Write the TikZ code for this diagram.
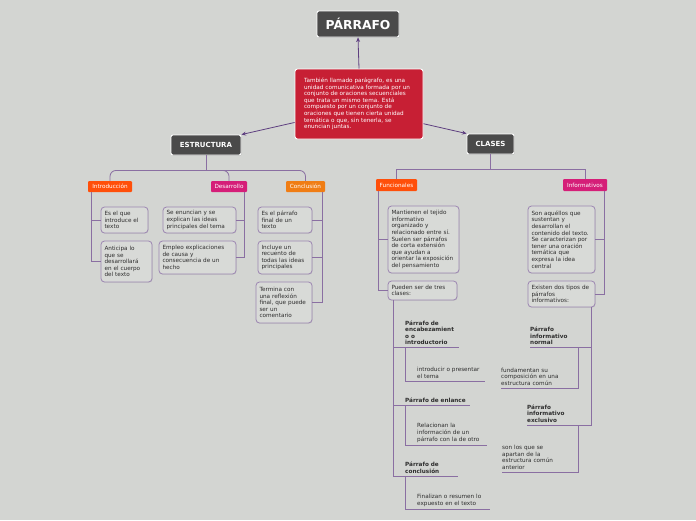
\documentclass[tikz,border=0pt]{standalone}
\usepackage{fontspec}
\setmainfont{DejaVu Sans}
\usetikzlibrary{positioning,arrows.meta,shadows}
\definecolor{bgc}{HTML}{D3D5D2}
\definecolor{darkbox}{HTML}{4A4A4A}
\definecolor{defred}{HTML}{C71F34}
\definecolor{orangered}{HTML}{FF4F0A}
\definecolor{magenta}{HTML}{D51E78}
\definecolor{orange}{HTML}{F07D14}
\definecolor{linkc}{HTML}{8A6FA2}
\definecolor{leafc}{HTML}{9C86B2}
\definecolor{arrc}{HTML}{5E3F80}
\definecolor{txt}{HTML}{2E2E2E}
\newcommand{\sm}{\fontsize{5.7}{6.6}\selectfont}

\begin{document}
\begin{tikzpicture}[x=1pt,y=-1pt,
          every node/.style={font=\sm},
          titlebox/.style={fill=darkbox,draw=white,line width=0.9pt,rounded corners=2pt,text=white,
            font=\fontsize{12.3}{14}\selectfont\bfseries,
            drop shadow={shadow xshift=0.6pt,shadow yshift=-0.8pt,opacity=0.35}},
          catbox/.style={titlebox,font=\fontsize{7}{8}\selectfont\bfseries},
          defbox/.style={fill=defred,draw=white,line width=0.9pt,rounded corners=2.5pt,text=white,align=left,inner xsep=9pt},
          tag/.style={text=white,rounded corners=1pt,inner sep=0pt,minimum height=11pt},
          leaf/.style={draw=leafc,fill=bgc!88!white,line width=0.8pt,rounded corners=3.5pt,text=txt,
            align=left,anchor=north west,inner xsep=3.5pt,inner ysep=2pt,outer sep=0pt,
            drop shadow={shadow xshift=0.5pt,shadow yshift=-0.7pt,opacity=0.2}},
          head/.style={font=\sm\bfseries,text=txt,align=left,anchor=south west,inner xsep=0pt,inner ysep=2.5pt},
          item/.style={text=txt,align=left,anchor=south west,inner xsep=0pt,inner ysep=2.5pt},
          link/.style={linkc,line width=0.8pt},
          arr/.style={arrc,line width=0.8pt,-{Stealth[length=4.5pt,width=4pt]}},
        ]
        \fill[bgc] (0,0) rectangle (696,520);
        \useasboundingbox (0,0) rectangle (696,520);

        % top
        \node[titlebox,minimum width=82pt,minimum height=26pt] (titulo) at (358,24) {PÁRRAFO};
        \node[defbox,text width=110pt,minimum height=70pt] (defin) at (359,104)
          {También llamado parágrafo, es una\\unidad comunicativa formada por un\\conjunto de oraciones secuenciales\\que trata un mismo tema. Está\\compuesto por un conjunto de\\oraciones que tienen cierta unidad\\temática o que, sin tenerla, se\\enuncian juntas.};
        \node[catbox,minimum width=70pt,minimum height=20pt] (estr) at (206,145) {ESTRUCTURA};
        \node[catbox,minimum width=47pt,minimum height=20pt] (clases) at (490.5,144) {CLASES};
        \draw[arr] (defin.north) -- (titulo.south);
        \draw[arr] (defin.196) -- (estr.north east);
        \draw[arr] (defin.343) -- (clases.north west);

        % estructura
        \node[tag,fill=orangered,minimum width=44pt] (intro) at (110,186.5) {Introducción};
        \node[tag,fill=magenta,minimum width=36pt]   (desa)  at (229,186.5) {Desarrollo};
        \node[tag,fill=orange,minimum width=39pt]    (concl) at (305.5,186.5) {Conclusión};
        \coordinate (estrj) at ([yshift=-15pt]estr.south);
        \draw[link] (estr.south) -- (estrj);
        \draw[link,rounded corners=6pt] (estrj) -| (intro.north);
        \draw[link,rounded corners=6pt] (estrj) -| (desa.north);
        \draw[link,rounded corners=6pt] (estrj) -| (concl.north);

        \node[leaf,text width=40pt,minimum height=26pt] (intro1) at (101,207) {Es el que\\introduce el\\texto};
        \node[leaf,text width=44pt,minimum height=41pt] (intro2) at (101,241) {Anticipa lo\\que se\\desarrollará\\en el cuerpo\\del texto};
        \draw[link] ([xshift=4pt]intro.south west) |- (intro1.west);
        \draw[link] ([xshift=4pt]intro.south west) |- (intro2.west);

        \node[leaf,text width=66pt,minimum height=26pt] (desa1) at (163,207) {Se enuncian y se\\explican las ideas\\principales del tema};
        \node[leaf,text width=70pt,minimum height=33pt] (desa2) at (159,241) {Empleo explicaciones\\de causa y\\consecuencia de un\\hecho};
        \draw[link] ([xshift=-3pt]desa.south east) |- (desa1.east);
        \draw[link] ([xshift=-3pt]desa.south east) |- (desa2.east);

        \node[leaf,text width=47pt,minimum height=26pt] (concl1) at (258,207) {Es el párrafo\\final de un\\texto};
        \node[leaf,text width=47pt,minimum height=33pt] (concl2) at (258,241) {Incluye un\\recuento de\\todas las ideas\\principales};
        \node[leaf,text width=49pt,minimum height=41pt] (concl3) at (256,282) {Termina con\\una reflexión\\final, que puede\\ser un\\comentario};
        \draw[link] ([xshift=-3pt]concl.south east) |- (concl1.east);
        \draw[link] ([xshift=-3pt]concl.south east) |- (concl2.east);
        \draw[link] ([xshift=-3pt]concl.south east) |- (concl3.east);

        % clases
        \node[tag,fill=orangered,minimum width=41pt,minimum height=12pt] (func) at (396.5,185) {Funcionales};
        \node[tag,fill=magenta,minimum width=44pt,minimum height=12pt]   (infor) at (585,185) {Informativos};
        \coordinate (clasj) at ([yshift=-15pt]clases.south);
        \draw[link] (clases.south) -- (clasj);
        \draw[link] (clasj) -| (func.north);
        \draw[link] (clasj) -| (infor.north);

        \node[leaf,text width=64pt,minimum height=67pt] (func1) at (388,206) {Mantienen el tejido\\informativo\\organizado y\\relacionado entre sí.\\Suelen ser párrafos\\de corta extensión\\que ayudan a\\orientar la exposición\\del pensamiento};
        \node[leaf,text width=62pt,minimum height=19pt] (pueden) at (388,281) {Pueden ser de tres\\clases:};
        \draw[link] ([xshift=3pt]func.south west) |- (func1.west);
        \draw[link] ([xshift=3pt]func.south west) |- (pueden.west);

        \node[leaf,text width=60pt,minimum height=67pt] (infor1) at (528,206) {Son aquéllos que\\sustentan y\\desarrollan el\\contenido del texto.\\Se caracterizan por\\tener una oración\\temática que\\expresa la idea\\central};
        \node[leaf,text width=60pt,minimum height=26pt] (existen) at (528,281) {Existen dos tipos de\\párrafos\\informativos:};
        \draw[link] ([xshift=-3pt]infor.south east) |- (infor1.east);
        \draw[link] ([xshift=-3pt]infor.south east) |- (existen.east);

        % tres clases
        \node[head,text width=54pt] (encab) at (405,347.7) {Párrafo de\\encabezamient\\o o\\introductorio};
        \node[item,text width=68pt] (intr) at (417,381) {introducir o presentar\\el tema};
        \node[head,text width=65pt] (enlace) at (405,405.3) {Párrafo de enlance};
        \node[item,text width=70pt] (relac) at (417,445) {Relacionan la\\información de un\\párrafo con la de otro};
        \node[head,text width=53pt] (conclu) at (405,476) {Párrafo de\\conclusión};
        \node[item,text width=73pt] (final) at (417,509.3) {Finalizan o resumen lo\\expuesto en el texto};
        \draw[link] ([xshift=5pt]pueden.south west) |- (encab.south east);
        \draw[link] ([xshift=5pt]pueden.south west) |- (enlace.south east);
        \draw[link] ([xshift=5pt]pueden.south west) |- (conclu.south east);
        \draw[link] (encab.south west) |- (intr.south east);
        \draw[link] (enlace.south west) |- (relac.south east);
        \draw[link] (conclu.south west) |- (final.south east);

        % dos tipos
        \node[head,text width=48pt] (normal) at (530,347.7) {Párrafo\\informativo\\normal};
        \node[item,text width=77pt] (fund) at (501,388) {fundamentan su\\composición en una\\estructura común};
        \node[head,text width=51pt] (exclu) at (527,425) {Párrafo\\informativo\\exclusivo};
        \node[item,text width=76pt] (apart) at (502,472) {son los que se\\apartan de la\\estructura común\\anterior};
        \draw[link] ([xshift=-4pt]existen.south east) |- (normal.south west);
        \draw[link] ([xshift=-4pt]existen.south east) |- (exclu.south west);
        \draw[link] (normal.south east) |- (fund.south west);
        \draw[link] (exclu.south east) |- (apart.south west);
      \end{tikzpicture}
\end{document}
